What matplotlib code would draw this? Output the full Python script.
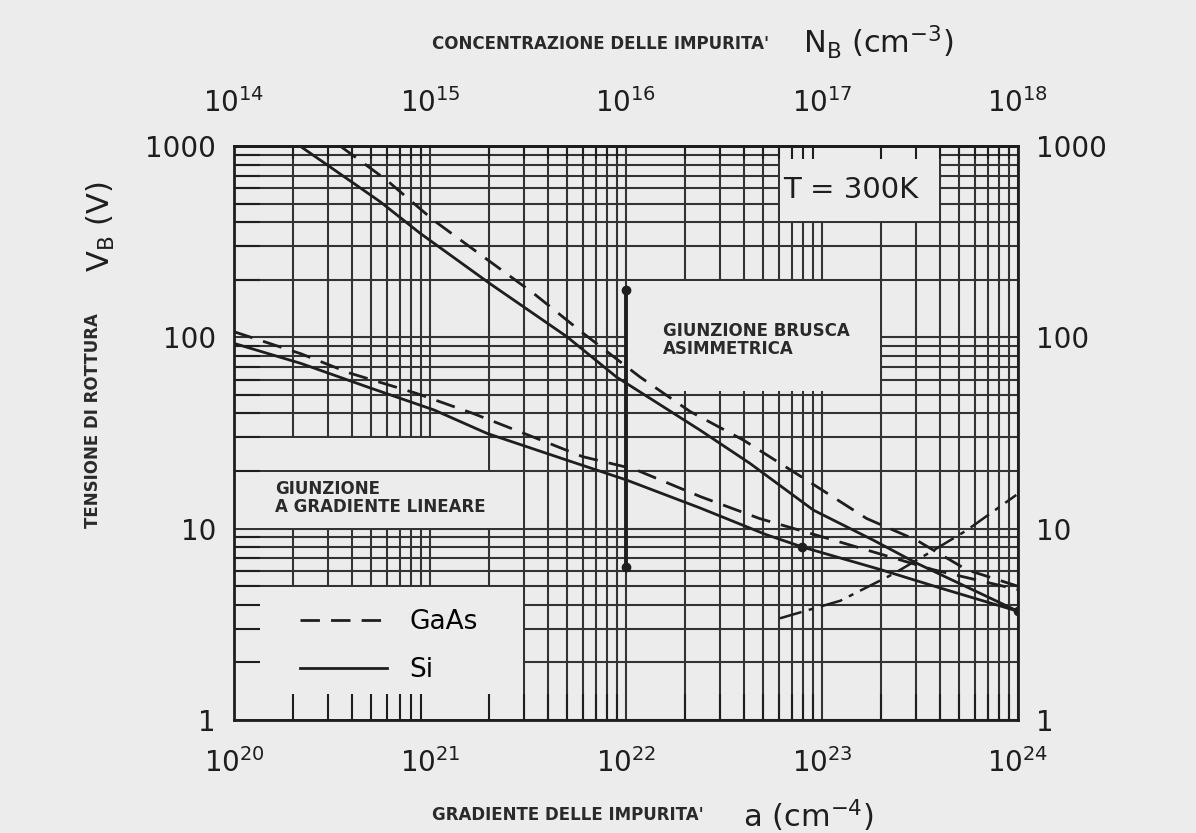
import numpy as np
import matplotlib.pyplot as plt
from matplotlib.patches import Rectangle
from matplotlib.ticker import LogLocator, FuncFormatter, NullFormatter, LogFormatterMathtext

# gradiente a (cm^-4) -> tensione di rottura V_B (V)
# giunzione a gradiente lineare
lin_si_a = [1e20, 2.2e20, 4.8e20, 1.05e21, 1.95e21, 5e21, 1e22, 2.4e22, 5.2e22, 8e22, 2e23, 4e23, 1e24]
lin_si_v = [93, 73, 55, 41.7, 31.5, 22.8, 18, 12.8, 9.3, 8.0, 6.1, 4.9, 3.7]
lin_gaas_a = [1e20, 2.2e20, 3.9e20, 8.5e20, 1.66e21, 3.4e21, 6e21, 1.1e22, 2.4e22, 4.8e22, 1.15e23, 3.7e23, 1e24]
lin_gaas_v = [107, 82, 65, 51, 40, 30, 23.8, 20.5, 14.7, 11.3, 8.7, 6.1, 4.8]

# giunzione brusca asimmetrica (stessa scala, N_B = a * 1e-6 sull'asse alto)
abr_si_a = [2.17e20, 5.56e20, 8.9e20, 2.02e21, 4.98e21, 8.95e21, 2.39e22, 4.3e22, 9.04e22, 1.83e23, 3.04e23, 1e24]
abr_si_v = [1000, 512, 350, 191, 101, 62, 32.7, 21.9, 12.5, 8.7, 6.6, 3.7]
abr_gaas_a = [3.48e20, 6.0e20, 1.04e21, 1.87e21, 3.37e21, 6.05e21, 1.18e22, 2.12e22, 3.98e22, 8.3e22, 1.69e23, 3.04e23, 5.47e23, 1e24]
abr_gaas_v = [1000, 664, 410, 264, 170, 105, 62, 41, 29, 18, 11.3, 8.7, 6.1, 5.0]

# curva tratto-punto (limite tunnel)
tun_a = [6.1e22, 1.24e23, 2.31e23, 3.7e23, 5.47e23, 9.8e23]
tun_v = [3.4, 4.2, 5.8, 7.7, 9.8, 15]

# segmento verticale e punti marcati
seg_a = [1e22, 1e22]
seg_v = [177, 6.3]
dot_a = [7.9e22, 1e24]
dot_v = [8.0, 3.7]

# tacche degli assi
a_ticks = [1e20, 1e21, 1e22, 1e23, 1e24]
nb_ticks = [1e14, 1e15, 1e16, 1e17, 1e18]
v_ticks = [1, 10, 100, 1000]

# zone bianche (xmin, xmax, ymin, ymax)
boxes = [
    (6e22, 4e23, 400, 1000),
    (1e22, 2e23, 52, 200),
    (1e20, 3e21, 10, 20),
    (1e20, 2e21, 20, 30),
    (1e20, 3e21, 1, 5),
]

bg = '#ececec'
ink = '#1e1e1e'

fig = plt.figure(figsize=(11.96, 8.33), dpi=100, facecolor=bg)
ax = fig.add_axes([234 / 1196, 1 - 720 / 833, 784 / 1196, 574 / 833])
ax.set_facecolor(bg)
ax.set_xscale('log')
ax.set_yscale('log')
ax.set_xlim(1e20, 1e24)
ax.set_ylim(1, 1000)

# carta logaritmica
xg = LogLocator(base=10, subs=np.arange(1, 10)).tick_values(1e20, 1e24)
yg = LogLocator(base=10, subs=np.arange(1, 10)).tick_values(1, 1000)
xg = xg[(xg >= 1e20) & (xg <= 1e24)]
yg = yg[(yg >= 1) & (yg <= 1000)]
ax.vlines(xg, 1, 1000, color='#333333', lw=1.5, zorder=0.5)
ax.hlines(yg, 1e20, 1e24, color='#333333', lw=1.5, zorder=0.5)

f = 1.012
for x0, x1, y0, y1 in boxes:
    ax.add_patch(Rectangle((x0 * f, y0 * f), x1 / f - x0 * f, y1 / f - y0 * f,
                           facecolor=bg, edgecolor='none', zorder=1))

ax.plot(abr_si_a, abr_si_v, color=ink, lw=2, zorder=3, label='Si')
ax.plot(lin_si_a, lin_si_v, color=ink, lw=2, zorder=3)
ax.plot(abr_gaas_a, abr_gaas_v, color=ink, lw=2, ls=(0, (7, 4)), zorder=3, label='GaAs')
ax.plot(lin_gaas_a, lin_gaas_v, color=ink, lw=2, ls=(0, (7, 4)), zorder=3)
ax.plot(tun_a, tun_v, color=ink, lw=1.8, ls=(0, (9, 3, 2, 3)), zorder=3)
ax.plot(seg_a, seg_v, color=ink, lw=2.8, marker='o', ms=6, zorder=3)
ax.plot(dot_a, dot_v, ls='none', color=ink, marker='o', ms=6, zorder=3)

for s in ax.spines.values():
    s.set_linewidth(2)
    s.set_color(ink)

ax.set_xticks(a_ticks)
ax.set_yticks(v_ticks)
ax.tick_params(which='both', direction='in', top=False, right=False, labelright=True,
               colors=ink, width=1.5)
ax.tick_params(which='major', length=0, labelsize=20)
ax.tick_params(axis='x', which='major', pad=20)
ax.tick_params(axis='y', which='major', pad=13)
ax.tick_params(which='minor', length=19)
ax.xaxis.set_major_formatter(LogFormatterMathtext())
ax.xaxis.set_minor_formatter(NullFormatter())
ax.yaxis.set_major_formatter(FuncFormatter(lambda v, p: f'{v:g}'))
ax.yaxis.set_minor_formatter(NullFormatter())

secx = ax.secondary_xaxis('top', functions=(lambda a: a * 1e-6, lambda n: n * 1e6))
secx.patch.set_visible(False)
secx.set_zorder(2)
secx.spines['top'].set_linewidth(2)
secx.set_xticks(nb_ticks)
secx.tick_params(which='both', direction='in', colors=ink, width=1.5)
secx.tick_params(which='major', length=0, labelsize=20, pad=20)
secx.tick_params(which='minor', length=9)
secx.xaxis.set_major_formatter(LogFormatterMathtext())
secx.xaxis.set_minor_formatter(NullFormatter())

# testi nel grafico
ax.text(783 / 1196, 1 - 190 / 833, 'T = 300K', transform=fig.transFigure,
        fontsize=21, color=ink, va='center', ha='left', zorder=4)
ax.text(663 / 1196, 1 - 340 / 833, 'GIUNZIONE BRUSCA\nASIMMETRICA', transform=fig.transFigure,
        fontsize=12, fontweight='bold', color='#2a2a2a', va='center', ha='left',
        linespacing=1.0, zorder=4)
ax.text(275 / 1196, 1 - 498 / 833, 'GIUNZIONE\nA GRADIENTE LINEARE', transform=fig.transFigure,
        fontsize=12, fontweight='bold', color='#2a2a2a', va='center', ha='left',
        linespacing=1.0, zorder=4)

handles, labels = ax.get_legend_handles_labels()
leg = ax.legend(handles[::-1], labels[::-1], loc='center left',
                bbox_to_anchor=(300 / 1196, 1 - 646 / 833), bbox_transform=fig.transFigure,
                frameon=False, fontsize=19, handlelength=3.3, handletextpad=0.85,
                labelspacing=0.85, borderpad=0, borderaxespad=0)
leg.set_zorder(4)

# titoli degli assi
fig.text(432 / 1196, 1 - 44 / 833, "CONCENTRAZIONE DELLE IMPURITA'", fontsize=12,
         fontweight='bold', color='#2a2a2a', va='center', ha='left')
fig.text(803 / 1196, 1 - 42 / 833, r'N$_\mathregular{B}$ (cm$^{-3}$)', fontsize=22,
         color=ink, va='center', ha='left')
fig.text(432 / 1196, 1 - 815 / 833, "GRADIENTE DELLE IMPURITA'", fontsize=12,
         fontweight='bold', color='#2a2a2a', va='center', ha='left')
fig.text(743 / 1196, 1 - 816 / 833, r'a (cm$^{-4}$)', fontsize=22,
         color=ink, va='center', ha='left')
fig.text(101 / 1196, 1 - 227 / 833, r'V$_\mathregular{B}$ (V)', fontsize=22, rotation=90,
         color=ink, va='center', ha='center')
fig.text(93 / 1196, 1 - 421 / 833, 'TENSIONE DI ROTTURA', fontsize=12, rotation=90,
         fontweight='bold', color='#2a2a2a', va='center', ha='center')

fig.savefig('out.png', dpi=100, facecolor=bg)
